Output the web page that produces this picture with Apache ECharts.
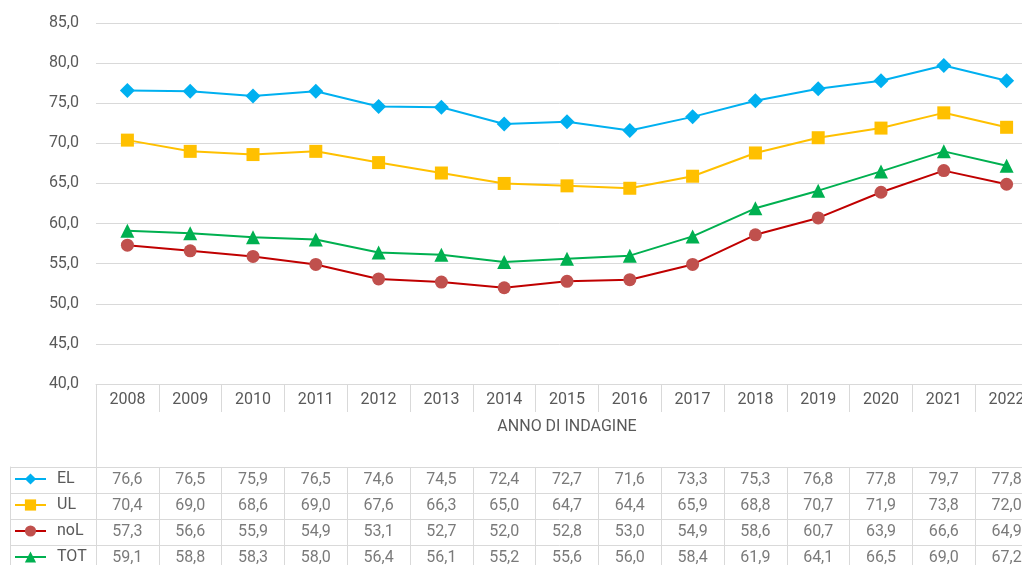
<!DOCTYPE html>
<html>
<head>
<meta charset="utf-8">
<script src="https://cdn.jsdelivr.net/npm/echarts@6/dist/echarts.min.js"></script>
<style>
  html, body { margin: 0; padding: 0; background: #fff; }
  #main { width: 1022px; height: 565px; }
</style>
</head>
<body>
<div id="main"></div>
<script>
var anni = ["2008", "2009", "2010", "2011", "2012", "2013", "2014", "2015", "2016", "2017", "2018", "2019", "2020", "2021", "2022"];
var serieNomi = ["EL", "UL", "noL", "TOT"];
var EL = [76.6, 76.5, 75.9, 76.5, 74.6, 74.5, 72.4, 72.7, 71.6, 73.3, 75.3, 76.8, 77.8, 79.7, 77.8];
var UL = [70.4, 69.0, 68.6, 69.0, 67.6, 66.3, 65.0, 64.7, 64.4, 65.9, 68.8, 70.7, 71.9, 73.8, 72.0];
var noL = [57.3, 56.6, 55.9, 54.9, 53.1, 52.7, 52.0, 52.8, 53.0, 54.9, 58.6, 60.7, 63.9, 66.6, 64.9];
var TOT = [59.1, 58.8, 58.3, 58.0, 56.4, 56.1, 55.2, 55.6, 56.0, 58.4, 61.9, 64.1, 66.5, 69.0, 67.2];

var testo = "#595959";
var griglia = "#d9d9d9";
var font = "Roboto";

function virgola(v) {
  return v.toFixed(1).replace(".", ",");
}

var chartDom = document.getElementById("main");
var myChart = echarts.init(chartDom);

// celle della tabella: [anno, riga, valore]
var valori = [EL, UL, noL, TOT];
var celle = [];
valori.forEach(function (arr, r) {
  arr.forEach(function (v, c) {
    celle.push([c, r, v]);
  });
});

var option = {
  backgroundColor: "#fff",
  animation: false,
  textStyle: { fontFamily: font },
  legend: {
    data: serieNomi,
    orient: "vertical",
    left: 14,
    top: 466,
    height: 140,
    padding: 0,
    itemGap: 0,
    itemWidth: 31,
    itemHeight: 14,
    textStyle: { color: testo, fontSize: 16, lineHeight: 26, padding: [0, 0, 0, 6], fontFamily: font },
  },
  grid: [
    { left: 96, top: 23, width: 942, height: 361, outerBoundsMode: "none" },
    { left: 96, top: 467, width: 942, height: 104, outerBoundsMode: "none" },
  ],
  xAxis: [
    {
      gridIndex: 0,
      type: "category",
      data: anni,
      boundaryGap: true,
      axisLine: { show: true, lineStyle: { color: griglia, width: 1 } },
      axisTick: { show: true, length: 28, lineStyle: { color: griglia } },
      axisLabel: { color: testo, fontSize: 16, margin: 8, fontFamily: font },
      name: "ANNO DI INDAGINE",
      nameLocation: "middle",
      nameGap: 35,
      nameTextStyle: { color: testo, fontSize: 16, fontFamily: font },
    },
    {
      // prolunga la linea sinistra fino alla tabella
      gridIndex: 0,
      type: "category",
      data: anni,
      position: "bottom",
      axisLine: { show: false },
      axisTick: {
        show: true,
        length: 83,
        interval: function (i) { return i === 0; },
        lineStyle: { color: griglia },
      },
      axisLabel: { show: false },
    },
    {
      gridIndex: 1,
      type: "category",
      data: anni,
      position: "top",
      axisLine: { show: true, lineStyle: { color: griglia } },
      axisTick: { show: false },
      axisLabel: { show: false },
      splitLine: { show: true, lineStyle: { color: griglia } },
    },
  ],
  yAxis: [
    {
      gridIndex: 0,
      type: "value",
      min: 40,
      max: 85,
      interval: 5,
      axisLine: { show: false },
      axisTick: { show: false },
      axisLabel: { color: testo, fontSize: 16, margin: 17, formatter: virgola, fontFamily: font },
      splitLine: { lineStyle: { color: griglia } },
    },
    {
      gridIndex: 1,
      type: "category",
      data: serieNomi,
      inverse: true,
      axisLine: { show: true, lineStyle: { color: griglia } },
      axisTick: { show: true, length: 86, lineStyle: { color: griglia } },
      axisLabel: { show: false },
      splitLine: { show: true, lineStyle: { color: griglia } },
    },
    {
      gridIndex: 1,
      type: "category",
      data: serieNomi,
      inverse: true,
      position: "left",
      offset: 86,
      axisLine: { show: true, lineStyle: { color: griglia } },
      axisTick: { show: false },
      axisLabel: { show: false },
    },
  ],
  series: [
    {
      name: "EL",
      type: "line",
      data: EL,
      symbol: "diamond",
      symbolSize: 15,
      lineStyle: { color: "#00B0F0", width: 2 },
      itemStyle: { color: "#00B0F0" },
    },
    {
      name: "UL",
      type: "line",
      data: UL,
      symbol: "rect",
      symbolSize: 13,
      lineStyle: { color: "#FFC000", width: 2 },
      itemStyle: { color: "#FFC000" },
    },
    {
      name: "noL",
      type: "line",
      data: noL,
      symbol: "circle",
      symbolSize: 13,
      lineStyle: { color: "#C00000", width: 2 },
      itemStyle: { color: "#C0504D" },
    },
    {
      name: "TOT",
      type: "line",
      data: TOT,
      symbol: "triangle",
      symbolSize: 14,
      lineStyle: { color: "#00B050", width: 2 },
      itemStyle: { color: "#00B050" },
    },
    {
      name: "tabella",
      type: "scatter",
      xAxisIndex: 2,
      yAxisIndex: 1,
      data: celle,
      symbolSize: 0,
      silent: true,
      label: {
        show: true,
        position: "inside",
        color: testo,
        fontSize: 16,
        fontFamily: font,
        formatter: function (p) { return virgola(p.value[2]); },
      },
    },
  ],
};

option && myChart.setOption(option);
</script>
</body>
</html>
